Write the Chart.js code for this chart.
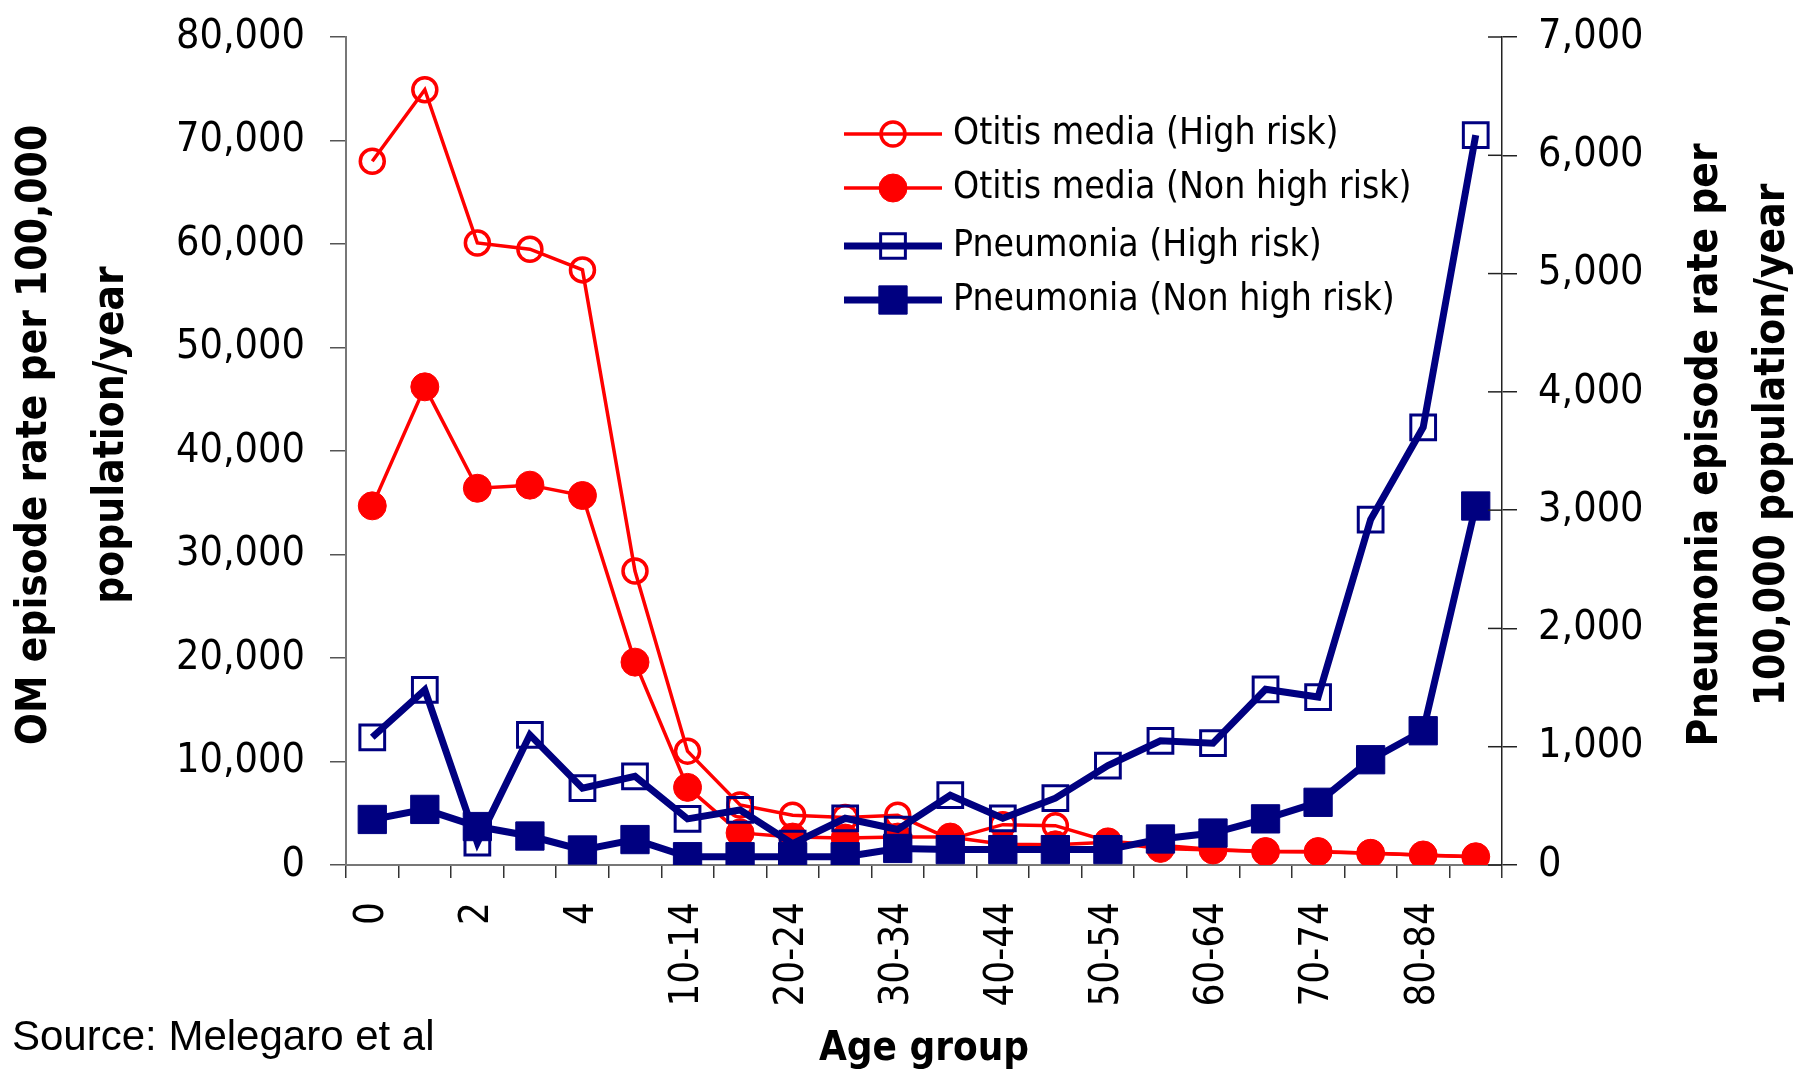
<!DOCTYPE html>
<html>
<head>
<meta charset="utf-8">
<script src="https://cdn.jsdelivr.net/npm/chart.js@4/dist/chart.umd.min.js"></script>
<style>
  html, body { margin: 0; padding: 0; background: #fff; }
  #wrap { width: 1805px; height: 1072px; position: relative; }
</style>
</head>
<body>
<div id="wrap"><canvas id="chart"></canvas></div>
<script>
// Age groups (x axis)
const ageGroups = ["0", "1", "2", "3", "4", "5-9", "10-14", "15-19", "20-24", "25-29",
  "30-34", "35-39", "40-44", "45-49", "50-54", "55-59", "60-64", "65-69", "70-74",
  "75-79", "80-84", "85+"];

// Otitis media, left axis (episodes per 100,000 / year)
const omHighRisk = [68000, 74900, 60100, 59500, 57500, 28400, 11000, 5800, 4800, 4600,
  4800, 2500, 3900, 3800, 2300, 1900, 1500, 1300, 1250, 1150, 950, 800];
const omNonHighRisk = [34700, 46200, 36400, 36700, 35700, 19600, 7500, 3100, 2700, 2600,
  2700, 2700, 2000, 1950, 2200, 1600, 1450, 1300, 1300, 1130, 970, 800];

// Pneumonia, right axis
const pnHighRisk = [1080, 1480, 190, 1100, 650, 750, 390, 465, 180, 395,
  300, 590, 395, 565, 840, 1050, 1030, 1485, 1420, 2920, 3700, 6170];
const pnNonHighRisk = [385, 470, 325, 245, 127, 215, 70, 70, 70, 70,
  140, 130, 130, 130, 130, 220, 270, 390, 530, 890, 1135, 3035];

// Axis ticks
const omTicks = [0, 10000, 20000, 30000, 40000, 50000, 60000, 70000, 80000];
const pnTicks = [0, 1000, 2000, 3000, 4000, 5000, 6000, 7000];

const seriesNames = [
  "Otitis media (High risk)",
  "Otitis media (Non high risk)",
  "Pneumonia (High risk)",
  "Pneumonia (Non high risk)",
];

const RED = "#ff0000";
const NAVY = "#000080";
const TICK_FONT = "'DejaVu Sans Condensed', 'DejaVu Sans', sans-serif";

// Titres des axes, légende et source
const decorPlugin = {
  id: "decor",
  afterDraw(chart) {
    const ctx = chart.ctx;
    const area = chart.chartArea;
    const midY = (area.top + area.bottom) / 2;

    ctx.save();
    ctx.fillStyle = "#000";
    ctx.textAlign = "center";
    ctx.textBaseline = "middle";
    ctx.font = "bold 42px " + TICK_FONT;

    // titre gauche
    [["OM episode rate per 100,000", 35], ["population/year", 112]].forEach(([t, x]) => {
      ctx.save();
      ctx.translate(x, midY - 16);
      ctx.rotate(-Math.PI / 2);
      ctx.fillText(t, 0, 0);
      ctx.restore();
    });
    // titre droit
    [["Pneumonia episode rate per", 1706], ["100,000 population/year", 1773]].forEach(([t, x]) => {
      ctx.save();
      ctx.translate(x, midY - 6);
      ctx.rotate(-Math.PI / 2);
      ctx.fillText(t, 0, 0);
      ctx.restore();
    });

    // titre axe x
    ctx.font = "bold 40px " + TICK_FONT;
    ctx.fillText("Age group", (area.left + area.right) / 2, 1050);

    // source
    ctx.textAlign = "left";
    ctx.font = "42px 'Liberation Sans', Arial, sans-serif";
    ctx.fillText("Source: Melegaro et al", 12, 1038);

    // légende
    const rows = [134, 188, 246, 300];
    chart.data.datasets.forEach((ds, i) => {
      const y = rows[i];
      ctx.strokeStyle = ds.borderColor;
      ctx.lineWidth = ds.borderWidth;
      ctx.beginPath();
      ctx.moveTo(844, y);
      ctx.lineTo(942, y);
      ctx.stroke();
      drawMarker(ctx, ds, 893, y);
      ctx.fillStyle = "#000";
      ctx.font = "37px " + TICK_FONT;
      ctx.textAlign = "left";
      ctx.fillText(seriesNames[i], 953, y);
    });

    // petits traits intérieurs de l'axe droit
    const yr = chart.scales.yRight;
    ctx.strokeStyle = "#222";
    ctx.lineWidth = 1.5;
    pnTicks.forEach((v) => {
      const py = yr.getPixelForValue(v);
      ctx.beginPath();
      ctx.moveTo(area.right - 14, py);
      ctx.lineTo(area.right, py);
      ctx.stroke();
    });
    ctx.restore();
  },
};

function drawMarker(ctx, ds, x, y) {
  const r = ds.pointRadius;
  ctx.save();
  ctx.lineWidth = ds.pointBorderWidth;
  ctx.strokeStyle = ds.borderColor;
  ctx.fillStyle = ds.pointBackgroundColor;
  ctx.beginPath();
  if (ds.pointStyle === "rect") {
    const s = Math.SQRT1_2 * r;
    ctx.rect(x - s, y - s, 2 * s, 2 * s);
  } else {
    ctx.arc(x, y, r, 0, Math.PI * 2);
  }
  ctx.fill();
  ctx.stroke();
  ctx.restore();
}

// Largeur fixe des axes verticaux, sans marge ajoutée pour les étiquettes
function fixVertical(width) {
  return (scale) => {
    scale.width = width;
    scale.paddingTop = 0;
    scale.paddingBottom = 0;
  };
}

const ctx = document.getElementById("chart").getContext("2d");
new Chart(ctx, {
  type: "line",
  data: {
    labels: ageGroups,
    datasets: [
      {
        label: seriesNames[0],
        data: omHighRisk,
        yAxisID: "yLeft",
        borderColor: RED,
        borderWidth: 3.5,
        pointStyle: "circle",
        pointRadius: 12,
        pointBorderWidth: 3.5,
        pointBackgroundColor: "rgba(0,0,0,0)",
        backgroundColor: "rgba(0,0,0,0)",
        order: 2,
      },
      {
        label: seriesNames[1],
        data: omNonHighRisk,
        yAxisID: "yLeft",
        borderColor: RED,
        borderWidth: 3.5,
        pointStyle: "circle",
        pointRadius: 14,
        pointBorderWidth: 1,
        pointBackgroundColor: RED,
        backgroundColor: RED,
        order: 3,
      },
      {
        label: seriesNames[2],
        data: pnHighRisk,
        yAxisID: "yRight",
        borderColor: NAVY,
        borderWidth: 7,
        pointStyle: "rect",
        pointRadius: 17.5,
        pointBorderWidth: 3,
        pointBackgroundColor: "rgba(0,0,0,0)",
        backgroundColor: "rgba(0,0,0,0)",
        order: 0,
      },
      {
        label: seriesNames[3],
        data: pnNonHighRisk,
        yAxisID: "yRight",
        borderColor: NAVY,
        borderWidth: 7,
        pointStyle: "rect",
        pointRadius: 20,
        pointBorderWidth: 1,
        pointBackgroundColor: NAVY,
        backgroundColor: NAVY,
        order: 1,
      },
    ],
  },
  options: {
    responsive: true,
    maintainAspectRatio: false,
    animation: false,
    layout: { padding: { top: 37, left: 0, right: 0, bottom: 0 } },
    plugins: {
      legend: { display: false },
      tooltip: { enabled: false },
    },
    scales: {
      x: {
        type: "category",
        offset: true,
        grid: { drawOnChartArea: false, offset: true, tickLength: 13, color: "#333", lineWidth: 1.5 },
        border: { color: "#777", width: 2 },
        ticks: {
          autoSkip: false,
          minRotation: 90,
          maxRotation: 90,
          padding: 24,
          color: "#000",
          font: { family: TICK_FONT, size: 40 },
          callback: (v, i) => (i % 2 === 0 ? ageGroups[i] : ""),
        },
        afterFit: (scale) => { scale.height = 207; },
      },
      yLeft: {
        position: "left",
        min: 0,
        max: 80000,
        afterBuildTicks: (scale) => { scale.ticks = omTicks.map((v) => ({ value: v })); },
        grid: { drawOnChartArea: false, tickLength: 16, color: "#555", lineWidth: 1.5 },
        border: { color: "#777", width: 2 },
        ticks: {
          padding: 25,
          color: "#000",
          font: { family: TICK_FONT, size: 41 },
          callback: (v) => v.toLocaleString("en-US"),
        },
        afterFit: fixVertical(346),
      },
      yRight: {
        position: "right",
        min: 0,
        max: 7000,
        afterBuildTicks: (scale) => { scale.ticks = pnTicks.map((v) => ({ value: v })); },
        grid: { drawOnChartArea: false, tickLength: 15, color: "#222", lineWidth: 1.5 },
        border: { color: "#222", width: 1.5 },
        ticks: {
          padding: 21,
          color: "#000",
          font: { family: TICK_FONT, size: 41 },
          callback: (v) => v.toLocaleString("en-US"),
        },
        afterFit: fixVertical(303),
      },
    },
  },
  plugins: [decorPlugin],
});
</script>
</body>
</html>
